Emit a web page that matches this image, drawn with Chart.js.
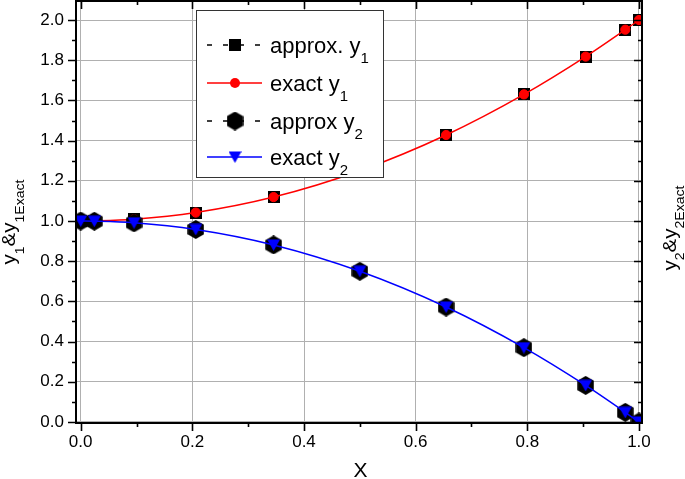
<!DOCTYPE html>
<html><head><meta charset="utf-8">
<script src="https://cdn.jsdelivr.net/npm/chart.js@4.4.0/dist/chart.umd.min.js"></script>
<style>html,body{margin:0;padding:0;background:#fff;}</style>
</head><body>
<canvas id="c" width="685" height="479"></canvas>
<script>
// ---- data ----
const xValues  = [0, 0.0245, 0.0955, 0.2061, 0.3455, 0.5, 0.6545, 0.7939, 0.9045, 0.9755, 1.0];
const approxY1 = [1.000, 1.001, 1.009, 1.042, 1.119, 1.250, 1.428, 1.630, 1.818, 1.952, 2.000];
const exactY1  = [1.000, 1.001, 1.009, 1.042, 1.119, 1.250, 1.428, 1.630, 1.818, 1.952, 2.000];
const approxY2 = [1.000, 0.999, 0.991, 0.958, 0.881, 0.750, 0.572, 0.370, 0.182, 0.048, 0.000];
const exactY2  = [1.000, 0.999, 0.991, 0.958, 0.881, 0.750, 0.572, 0.370, 0.182, 0.048, 0.000];
const xTickValues = [0.0, 0.2, 0.4, 0.6, 0.8, 1.0];
const xMinorTickValues = [0.1, 0.3, 0.5, 0.7, 0.9];
const yTickValues = [0.0, 0.2, 0.4, 0.6, 0.8, 1.0, 1.2, 1.4, 1.6, 1.8, 2.0];
const yMinorTickValues = [0.1, 0.3, 0.5, 0.7, 0.9, 1.1, 1.3, 1.5, 1.7, 1.9];
const seriesNames = ['approx. y', 'exact y', 'approx y', 'exact y'];
const seriesSubs  = ['1', '1', '2', '2'];

const FONT = '"Liberation Sans", Arial, sans-serif';
const pts = (ys) => xValues.map((x, i) => ({x, y: ys[i]}));

// ---- marker images ----
function mk(w, h, fn){ const c = document.createElement('canvas'); c.width = w; c.height = h; fn(c.getContext('2d'), w, h); return c; }
const squareImg = mk(12, 12, (g, w, h) => { g.fillStyle = '#000'; g.fillRect(0, 0, w, h); });
const hexImg = mk(17, 19, (g, w, h) => {
  const r = 9.5, cx = w/2, cy = h/2;
  g.beginPath();
  for (let i = 0; i < 6; i++) { const a = (-90 + 60*i) * Math.PI/180; const px = cx + r*Math.cos(a), py = cy + r*Math.sin(a); i ? g.lineTo(px, py) : g.moveTo(px, py); }
  g.closePath(); g.fillStyle = '#000'; g.fill();
});
const triImg = mk(13, 12, (g, w, h) => {
  g.beginPath(); g.moveTo(0, 0.5); g.lineTo(w, 0.5); g.lineTo(w/2, h); g.closePath(); g.fillStyle = '#0000ff'; g.fill();
});

function drawRich(ctx, parts, x, y, mainSize, subSize, subDy, align){
  let total = 0;
  for (const p of parts){ ctx.font = (p.sub ? subSize : mainSize) + 'px ' + FONT; p.w = ctx.measureText(p.t).width; total += p.w; }
  let cx = align === 'center' ? x - total/2 : x;
  ctx.textAlign = 'left'; ctx.textBaseline = 'alphabetic';
  for (const p of parts){ ctx.font = (p.sub ? subSize : mainSize) + 'px ' + FONT; ctx.fillText(p.t, cx, p.sub ? y + subDy : y); cx += p.w; }
}

const decor = {
  id: 'decor',
  afterDatasetsDraw(chart){
    const {ctx, chartArea: a, scales: {x, y}} = chart;
    ctx.save();
    ctx.strokeStyle = '#000'; ctx.lineWidth = 2;
    ctx.strokeRect(a.left, a.top, a.right - a.left, a.bottom - a.top);
    ctx.lineWidth = 1.6;
    ctx.beginPath();
    const tx = (v, len) => { const p = Math.round(x.getPixelForValue(v)) + 0.5;
      ctx.moveTo(p, a.bottom); ctx.lineTo(p, a.bottom + len);
      ctx.moveTo(p, a.top); ctx.lineTo(p, a.top + len); };
    const ty = (v, len) => { const p = Math.round(y.getPixelForValue(v)) + 0.5;
      ctx.moveTo(a.left, p); ctx.lineTo(a.left - len, p);
      ctx.moveTo(a.right, p); ctx.lineTo(a.right - len, p); };
    xTickValues.forEach(v => tx(v, 8)); xMinorTickValues.forEach(v => tx(v, 4));
    yTickValues.forEach(v => ty(v, 8)); yMinorTickValues.forEach(v => ty(v, 4));
    ctx.stroke();

    // legend
    const L = 196.5, T = 10.5, R = 383.5, B = 177.5;
    ctx.fillStyle = '#fff'; ctx.fillRect(L, T, R - L, B - T);
    ctx.strokeStyle = '#333'; ctx.lineWidth = 1; ctx.strokeRect(L, T, R - L, B - T);
    const rows = [45, 83, 121, 157];
    const imgs = [squareImg, null, hexImg, triImg];
    const colors = ['#000', '#ff0000', '#000', '#0000ff'];
    rows.forEach((ry, i) => {
      ctx.save();
      ctx.strokeStyle = colors[i]; ctx.lineWidth = 1.5;
      if (i === 0 || i === 2) ctx.setLineDash([5, 11]);
      ctx.beginPath(); ctx.moveTo(207, ry); ctx.lineTo(262, ry); ctx.stroke();
      ctx.restore();
      if (imgs[i]) ctx.drawImage(imgs[i], 235 - imgs[i].width/2, ry - imgs[i].height/2);
      else { ctx.fillStyle = '#ff0000'; ctx.beginPath(); ctx.arc(235, ry, 5, 0, Math.PI*2); ctx.fill(); }
      ctx.fillStyle = '#000';
      drawRich(ctx, [{t: seriesNames[i]}, {t: seriesSubs[i], sub: true}], 270, ry + 8, 22, 15, 10, 'left');
    });

    // axis titles
    ctx.fillStyle = '#000';
    drawRich(ctx, [{t: 'X'}], 360.5, 477, 21, 14, 0, 'center');
    ctx.save(); ctx.translate(15, 222); ctx.rotate(-Math.PI/2); ctx.scale(1.08, 1);
    drawRich(ctx, [{t:'y'},{t:'1',sub:true},{t:'&y'},{t:'1Exact',sub:true}], 0, 0, 19, 13, 9, 'center');
    ctx.restore();
    ctx.save(); ctx.translate(676, 228); ctx.rotate(-Math.PI/2); ctx.scale(1.08, 1);
    drawRich(ctx, [{t:'y'},{t:'2',sub:true},{t:'&y'},{t:'2Exact',sub:true}], 0, 0, 19, 13, 8, 'center');
    ctx.restore();
    ctx.restore();
  }
};

new Chart(document.getElementById('c'), {
  type: 'line',
  data: {
    datasets: [
      { label: 'exact y2', data: pts(exactY2), borderColor: '#0000ff', borderWidth: 1.5, pointStyle: triImg, pointRadius: 6, cubicInterpolationMode: 'monotone', order: 0 },
      { label: 'approx y2', data: pts(approxY2), showLine: false, pointStyle: hexImg, pointRadius: 6, order: 1 },
      { label: 'exact y1', data: pts(exactY1), borderColor: '#ff0000', borderWidth: 1.5, pointStyle: 'circle', pointRadius: 4.6, pointBackgroundColor: '#ff0000', pointBorderColor: '#ff0000', pointBorderWidth: 1, cubicInterpolationMode: 'monotone', order: 2 },
      { label: 'approx. y1', data: pts(approxY1), showLine: false, pointStyle: squareImg, pointRadius: 6, order: 3 }
    ]
  },
  options: {
    responsive: false, animation: false, events: [], devicePixelRatio: 1,
    layout: { autoPadding: false, padding: { left: 0, right: 43, top: 1, bottom: 0 } },
    plugins: { legend: { display: false }, tooltip: { enabled: false } },
    scales: {
      x: {
        type: 'linear', position: 'bottom', min: -0.0084, max: 1.0054,
        afterBuildTicks: s => { s.ticks = xTickValues.map(v => ({value: v})); },
        afterFit: s => { s.height = 56; s.paddingLeft = 0; s.paddingRight = 0; },
        ticks: { color: '#000', font: { family: FONT, size: 17 }, padding: 9, maxRotation: 0, autoSkip: false, callback: v => Number(v).toFixed(1) },
        grid: { color: '#b0b0b0', lineWidth: 1, drawTicks: false },
        border: { display: false }
      },
      y: {
        type: 'linear', position: 'left', min: -0.005, max: 2.0946,
        afterBuildTicks: s => { s.ticks = yTickValues.map(v => ({value: v})); },
        afterFit: s => { s.width = 76; s.paddingTop = 0; s.paddingBottom = 0; },
        ticks: { color: '#000', font: { family: FONT, size: 17 }, padding: 12, autoSkip: false, callback: v => Number(v).toFixed(1) },
        grid: { color: '#b0b0b0', lineWidth: 1, drawTicks: false },
        border: { display: false }
      }
    }
  },
  plugins: [decor]
});
</script>
</body></html>
